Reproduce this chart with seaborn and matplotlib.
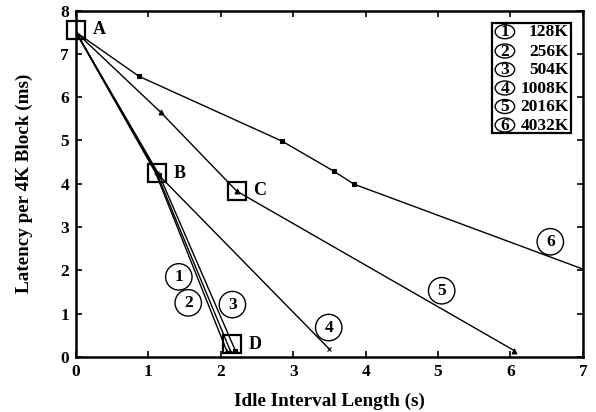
import matplotlib
matplotlib.use("Agg")
import matplotlib.pyplot as plt
import seaborn as sns
import pandas as pd
from matplotlib.patches import Rectangle, Ellipse

# ---- data ----
series_labels = ["128K", "256K", "504K", "1008K", "2016K", "4032K"]
x_128 = [0.0, 1.10, 2.08]
y_128 = [7.5, 4.25, 0.15]
x_256 = [0.0, 1.12, 2.13]
y_256 = [7.5, 4.22, 0.15]
x_504 = [0.0, 1.15, 2.20]
y_504 = [7.5, 4.20, 0.15]
x_1008 = [0.0, 1.12, 3.50]
y_1008 = [7.5, 4.24, 0.18]
x_2016 = [0.0, 1.17, 2.22, 6.05]
y_2016 = [7.5, 5.65, 3.83, 0.15]
x_4032 = [0.0, 0.87, 2.85, 3.56, 3.84, 7.0]
y_4032 = [7.5, 6.48, 4.98, 4.29, 3.99, 2.03]

point_names = ["A", "B", "C", "D"]
point_x = [0.0, 1.12, 2.22, 2.15]
point_y = [7.56, 4.24, 3.84, 0.30]

tag_x = [1.42, 1.55, 2.16, 3.49, 5.05, 6.55]
tag_y = [1.85, 1.25, 1.21, 0.68, 1.53, 2.66]

x_ticks = [0, 1, 2, 3, 4, 5, 6, 7]
y_ticks = [0, 1, 2, 3, 4, 5, 6, 7, 8]

# ---- style ----
sns.set_theme(style="ticks")
plt.rcParams["font.family"] = ["Liberation Serif", "DejaVu Serif"]
plt.rcParams["font.weight"] = "bold"
plt.rcParams["text.color"] = "black"
plt.rcParams["axes.labelcolor"] = "black"
plt.rcParams["xtick.color"] = "black"
plt.rcParams["ytick.color"] = "black"

fig = plt.figure(figsize=(5.96, 4.12), dpi=100)
ax = fig.add_axes([0.1275, 0.1335, 0.8505, 0.841])

xs = [x_128, x_256, x_504, x_1008, x_2016, x_4032]
ys = [y_128, y_256, y_504, y_1008, y_2016, y_4032]
markers = ["+", "+", "s", "x", "^", "s"]
frames = []
for lab, xv, yv in zip(series_labels, xs, ys):
    frames.append(pd.DataFrame({"x": xv, "y": yv, "series": lab}))
df = pd.concat(frames, ignore_index=True)

for lab, mk in zip(series_labels, markers):
    sub = df[df["series"] == lab]
    n = len(sub)
    me = list(range(1, n - 1)) + ([n - 1] if lab != "4032K" else [])
    sns.lineplot(data=sub, x="x", y="y", ax=ax, color="black", sort=False,
                 linewidth=1.0, marker=mk, markersize=3.5, markevery=me,
                 markeredgewidth=0.8, mec="black", mfc="black", legend=False)

# annotation boxes A-D
for nm, px, py in zip(point_names, point_x, point_y):
    ax.plot([px], [py], marker="s", markersize=13, mfc="none", mec="black",
            mew=1.6, linestyle="none", clip_on=False, zorder=5)
    ax.annotate(nm, (px, py), xytext=(12, 0), textcoords="offset points",
                ha="left", va="center", fontsize=13, fontweight="bold",
                color="black", annotation_clip=False)

# circled series tags
for i, (tx, ty) in enumerate(zip(tag_x, tag_y)):
    ax.text(tx, ty, str(i + 1), ha="center", va="center", fontsize=12.5,
            fontweight="bold", color="black",
            bbox=dict(boxstyle="circle,pad=0.3", fc="white", ec="black", lw=1.0))

# legend box (manual)
def fx(px):
    return (px - 76.0) / (583.0 - 76.0)
def fy(py):
    return (357.0 - py) / (357.0 - 10.5)
leg_left, leg_right = 491.7, 571.0
leg_top, leg_bot = 22.7, 133.3
ax.add_patch(Rectangle((fx(leg_left), fy(leg_bot)), fx(leg_right) - fx(leg_left),
                       fy(leg_top) - fy(leg_bot), transform=ax.transAxes,
                       fill=False, ec="black", lw=1.6, zorder=6))
row_y = [31.7, 51.0, 69.5, 88.0, 106.5, 125.0]
for i, (lab, ry) in enumerate(zip(series_labels, row_y)):
    ax.add_patch(Ellipse((fx(505), fy(ry)), 19.5 / 507.0, 14.0 / 346.5,
                         transform=ax.transAxes, fill=False, ec="black",
                         lw=1.0, zorder=7))
    ax.text(fx(505), fy(ry + 0.5), str(i + 1), transform=ax.transAxes,
            ha="center", va="center", fontsize=12.5, fontweight="bold",
            color="black", zorder=8)
    ax.text(fx(569), fy(ry + 0.5), lab, transform=ax.transAxes, ha="right",
            va="center", fontsize=12.5, fontweight="bold", color="black",
            zorder=8)

ax.set_xlim(0, 7)
ax.set_ylim(0, 8)
ax.set_xticks(x_ticks)
ax.set_yticks(y_ticks)
ax.set_xticklabels([str(t) for t in x_ticks], fontsize=12.5, fontweight="bold")
ax.set_yticklabels([str(t) for t in y_ticks], fontsize=12.5, fontweight="bold")
ax.tick_params(direction="in", length=4, width=1.2, top=True, right=True,
               color="black", labelcolor="black", pad=5)
for s in ax.spines.values():
    s.set_linewidth(1.8)
    s.set_color("black")
    s.set_visible(True)
ax.set_xlabel("Idle Interval Length (s)", fontsize=13.8, fontweight="bold",
              color="black")
ax.set_ylabel("Latency per 4K Block (ms)", fontsize=13.8, fontweight="bold",
              color="black")
ax.xaxis.set_label_coords(0.5, -0.104)
ax.yaxis.set_label_coords(-0.085, 0.5)
ax.grid(False)

fig.savefig("out.png", dpi=100)
